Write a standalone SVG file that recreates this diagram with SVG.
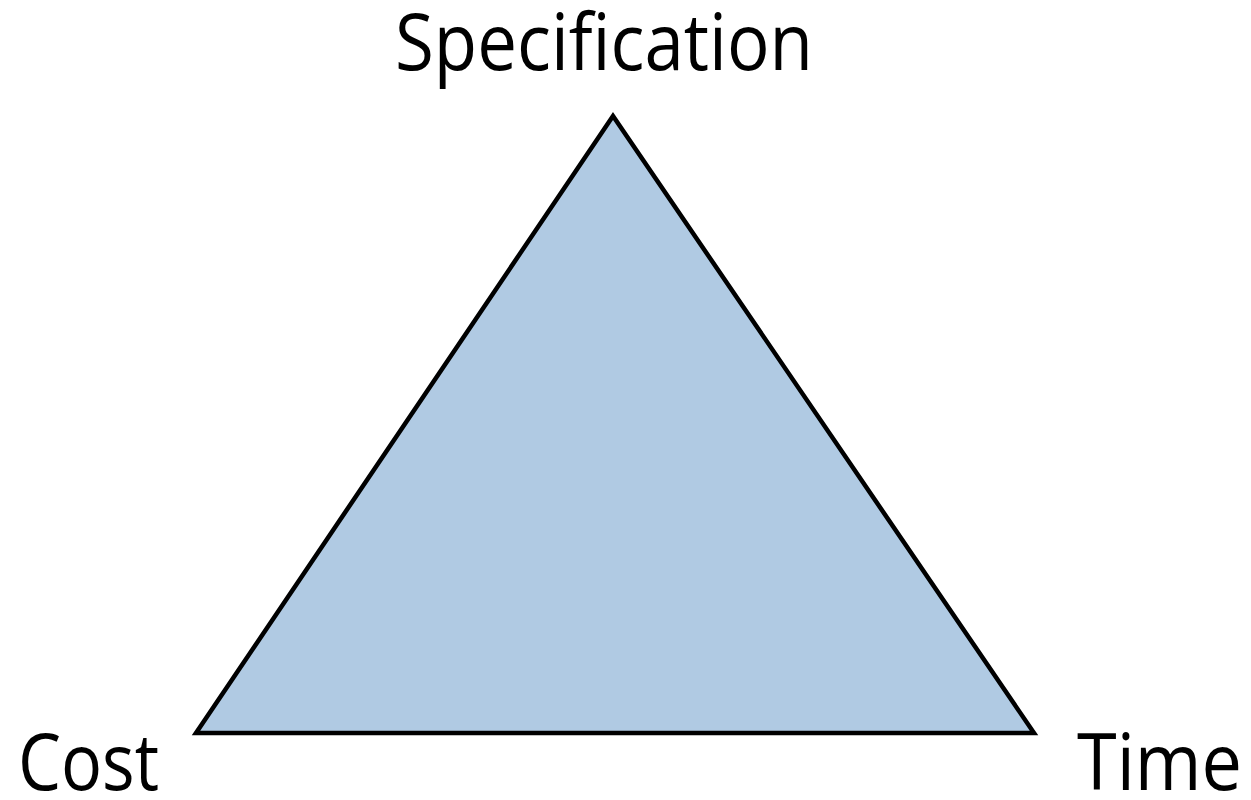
<svg xmlns="http://www.w3.org/2000/svg" width="1251" height="800" viewBox="0 0 1251 800">
<style>
.lbl{font-family:"Open Sans","DejaVu Sans",sans-serif;font-size:78px;fill:#000}
</style>
<rect width="1251" height="800" fill="#fff"/>
<g id="triangle">
<polygon points="613,116 196,733 1034,733" fill="#b0cae3" stroke="#000" stroke-width="4.5" stroke-linejoin="miter"/>
</g>
<g id="spec"><text class="lbl" x="395" y="70" textLength="418" lengthAdjust="spacingAndGlyphs">Specification</text></g>
<g id="cost"><text class="lbl" x="18" y="790" textLength="141" lengthAdjust="spacingAndGlyphs">Cost</text></g>
<g id="time"><text class="lbl" x="1077" y="790" textLength="165" lengthAdjust="spacingAndGlyphs">Time</text></g>
</svg>
